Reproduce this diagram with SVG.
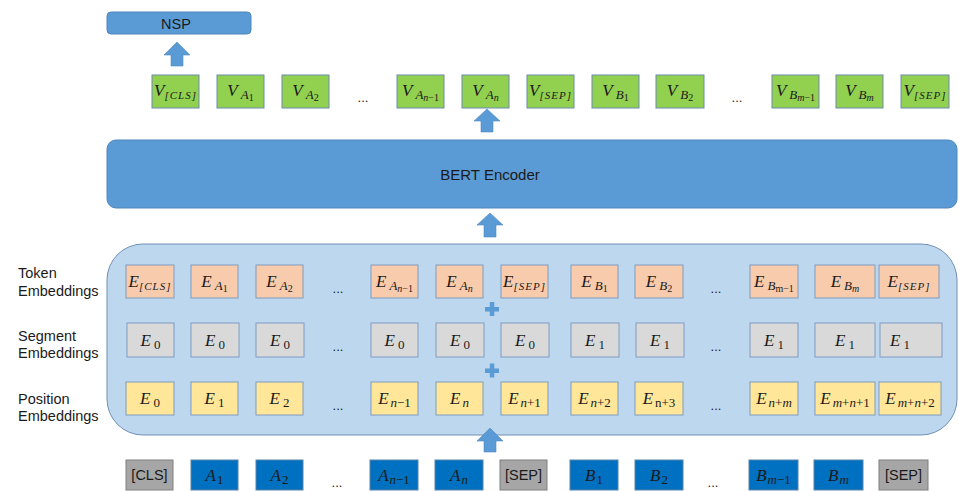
<svg xmlns="http://www.w3.org/2000/svg" width="959" height="491" viewBox="0 0 959 491">
<defs>
<style>
.lbl{font-family:"Liberation Sans",Arial,sans-serif;font-size:14.5px;fill:#1a1a1a}
.sans{font-family:"Liberation Sans",Arial,sans-serif;fill:#1a1a1a}
.m{font-family:"Liberation Serif","Times New Roman",serif;font-style:italic;font-size:17px;fill:#1a1a1a;text-anchor:middle}
.s{font-size:13px}
.ss{font-size:10px}
.u{font-style:normal}
.br{font-size:11px;letter-spacing:1px}
.dots{font-family:"Liberation Sans",Arial,sans-serif;font-size:13px;fill:#1a1a1a;text-anchor:middle}
.g{fill:#92D050;stroke:#6A8BAE;stroke-width:1}
.o{fill:#F8CBAD;stroke:#7F9CC0;stroke-width:1}
.gr{fill:#D9D9D9;stroke:#7F9CC0;stroke-width:1}
.y{fill:#FFE699;stroke:#7F9CC0;stroke-width:1}
.b{fill:#0070C0;stroke:#5A82AA;stroke-width:1}
.gi{fill:#A6A6A6;stroke:#7F7F7F;stroke-width:1}
.arr{fill:#5B9BD5;stroke:#4F8AC4;stroke-width:0.6}
.plus{fill:#5B9BD5}
</style>
</defs>
<rect width="959" height="491" fill="#ffffff"/>

<!-- NSP -->
<g id="nsp">
<rect x="107" y="12" width="144" height="22" rx="4" fill="#5B9BD5" stroke="#4F86BC" stroke-width="1"/>
<text x="176" y="28.5" class="sans" font-size="14.5" text-anchor="middle">NSP</text>
</g>

<!-- BERT -->
<g id="bert">
<rect x="107" y="140" width="850" height="68" rx="9" fill="#5B9BD5" stroke="#4F86BC" stroke-width="1"/>
<text x="490" y="180" class="sans" font-size="15" text-anchor="middle">BERT Encoder</text>
</g>

<!-- Embedding container -->
<g id="embeddings">
<rect x="107" y="244" width="850" height="191" rx="36" fill="#BDD7EE" stroke="#6F8FB5" stroke-width="1"/>
</g>

<!-- Row labels -->
<g id="labels">
<text x="18" y="278" class="lbl">Token</text>
<text x="18" y="296" class="lbl">Embeddings</text>
<text x="18" y="341" class="lbl">Segment</text>
<text x="18" y="358" class="lbl">Embeddings</text>
<text x="18" y="404" class="lbl">Position</text>
<text x="18" y="421" class="lbl">Embeddings</text>
</g>

<!-- Output V row -->
<g id="v-row">
<g id="v-cls"><rect class="g" x="152" y="75" width="47" height="33"/><text class="m" x="175.5" y="96">V<tspan class="s br" dy="3">[CLS]</tspan></text></g>
<g id="v-a1"><rect class="g" x="217" y="75" width="47" height="33"/><text class="m" x="240.5" y="96">V<tspan class="s" dx="3" dy="3">A</tspan><tspan class="ss u" dy="2">1</tspan></text></g>
<g id="v-a2"><rect class="g" x="282" y="75" width="47" height="33"/><text class="m" x="305.5" y="96">V<tspan class="s" dx="3" dy="3">A</tspan><tspan class="ss u" dy="2">2</tspan></text></g>
<text class="dots" x="363" y="102">...</text>
<g id="v-an1"><rect class="g" x="397" y="75" width="47" height="33"/><text class="m" x="420.5" y="96">V<tspan class="s" dx="3" dy="3">A</tspan><tspan class="ss" dy="2">n</tspan><tspan class="ss u">−1</tspan></text></g>
<g id="v-an"><rect class="g" x="462" y="75" width="47" height="33"/><text class="m" x="485.5" y="96">V<tspan class="s" dx="3" dy="3">A</tspan><tspan class="ss" dy="2">n</tspan></text></g>
<g id="v-sep"><rect class="g" x="527" y="75" width="47" height="33"/><text class="m" x="550.5" y="96">V<tspan class="s br" dy="3">[SEP]</tspan></text></g>
<g id="v-b1"><rect class="g" x="592" y="75" width="47" height="33"/><text class="m" x="615.5" y="96">V<tspan class="s" dx="3" dy="3">B</tspan><tspan class="ss u" dy="2">1</tspan></text></g>
<g id="v-b2"><rect class="g" x="656" y="75" width="48" height="33"/><text class="m" x="680" y="96">V<tspan class="s" dx="3" dy="3">B</tspan><tspan class="ss u" dy="2">2</tspan></text></g>
<text class="dots" x="737" y="102">...</text>
<g id="v-bm1"><rect class="g" x="772" y="75" width="47" height="33"/><text class="m" x="795.5" y="96">V<tspan class="s" dx="3" dy="3">B</tspan><tspan class="ss" dy="2">m</tspan><tspan class="ss u">−1</tspan></text></g>
<g id="v-bm"><rect class="g" x="836" y="75" width="47" height="33"/><text class="m" x="859.5" y="96">V<tspan class="s" dx="3" dy="3">B</tspan><tspan class="ss" dy="2">m</tspan></text></g>
<g id="v-sep2"><rect class="g" x="901" y="75" width="48" height="33"/><text class="m" x="925" y="96">V<tspan class="s br" dy="3">[SEP]</tspan></text></g>
</g>

<!-- Token embeddings -->
<g id="token-row">
<g id="t-cls"><rect class="o" x="126" y="265" width="48" height="33"/><text class="m" x="150" y="287">E<tspan class="s br" dy="3">[CLS]</tspan></text></g>
<g id="t-a1"><rect class="o" x="191" y="265" width="47" height="33"/><text class="m" x="214.5" y="287">E<tspan class="s" dx="3" dy="3">A</tspan><tspan class="ss u" dy="2">1</tspan></text></g>
<g id="t-a2"><rect class="o" x="256" y="265" width="47" height="33"/><text class="m" x="279.5" y="287">E<tspan class="s" dx="3" dy="3">A</tspan><tspan class="ss u" dy="2">2</tspan></text></g>
<text class="dots" x="338" y="293">...</text>
<g id="t-an1"><rect class="o" x="371" y="265" width="47" height="33"/><text class="m" x="394.5" y="287">E<tspan class="s" dx="3" dy="3">A</tspan><tspan class="ss" dy="2">n</tspan><tspan class="ss u">−1</tspan></text></g>
<g id="t-an"><rect class="o" x="436" y="265" width="47" height="33"/><text class="m" x="459.5" y="287">E<tspan class="s" dx="3" dy="3">A</tspan><tspan class="ss" dy="2">n</tspan></text></g>
<g id="t-sep"><rect class="o" x="501" y="265" width="47" height="33"/><text class="m" x="524.5" y="287">E<tspan class="s br" dy="3">[SEP]</tspan></text></g>
<g id="t-b1"><rect class="o" x="571" y="265" width="47" height="33"/><text class="m" x="594.5" y="287">E<tspan class="s" dx="3" dy="3">B</tspan><tspan class="ss u" dy="2">1</tspan></text></g>
<g id="t-b2"><rect class="o" x="635" y="265" width="48" height="33"/><text class="m" x="659" y="287">E<tspan class="s" dx="3" dy="3">B</tspan><tspan class="ss u" dy="2">2</tspan></text></g>
<text class="dots" x="716" y="293">...</text>
<g id="t-bm1"><rect class="o" x="750" y="265" width="48" height="33"/><text class="m" x="774" y="287">E<tspan class="s" dx="3" dy="3">B</tspan><tspan class="ss u" dy="2">m−1</tspan></text></g>
<g id="t-bm"><rect class="o" x="815" y="265" width="60" height="33"/><text class="m" x="845" y="287">E<tspan class="s" dx="3" dy="3">B</tspan><tspan class="ss" dy="2">m</tspan></text></g>
<g id="t-sep2"><rect class="o" x="879" y="265" width="60" height="33"/><text class="m" x="909" y="287">E<tspan class="s br" dy="3">[SEP]</tspan></text></g>
</g>

<!-- Segment embeddings -->
<g id="segment-row">
<g id="s-1"><rect class="gr" x="127" y="323" width="47" height="34"/><text class="m" x="150.5" y="346">E<tspan class="s u" dx="3" dy="3">0</tspan></text></g>
<g id="s-2"><rect class="gr" x="191" y="323" width="48" height="34"/><text class="m" x="215" y="346">E<tspan class="s u" dx="3" dy="3">0</tspan></text></g>
<g id="s-3"><rect class="gr" x="256" y="323" width="48" height="34"/><text class="m" x="280" y="346">E<tspan class="s u" dx="3" dy="3">0</tspan></text></g>
<text class="dots" x="338" y="351">...</text>
<g id="s-4"><rect class="gr" x="371" y="323" width="47" height="34"/><text class="m" x="394.5" y="346">E<tspan class="s u" dx="3" dy="3">0</tspan></text></g>
<g id="s-5"><rect class="gr" x="436" y="323" width="48" height="34"/><text class="m" x="460" y="346">E<tspan class="s u" dx="3" dy="3">0</tspan></text></g>
<g id="s-6"><rect class="gr" x="501" y="323" width="48" height="34"/><text class="m" x="525" y="346">E<tspan class="s u" dx="3" dy="3">0</tspan></text></g>
<g id="s-7"><rect class="gr" x="571" y="323" width="48" height="34"/><text class="m" x="595" y="346">E<tspan class="s u" dx="3" dy="3">1</tspan></text></g>
<g id="s-8"><rect class="gr" x="636" y="323" width="48" height="34"/><text class="m" x="660" y="346">E<tspan class="s u" dx="3" dy="3">1</tspan></text></g>
<text class="dots" x="716" y="351">...</text>
<g id="s-9"><rect class="gr" x="750" y="323" width="48" height="34"/><text class="m" x="774" y="346">E<tspan class="s u" dx="3" dy="3">1</tspan></text></g>
<g id="s-10"><rect class="gr" x="815" y="323" width="60" height="34"/><text class="m" x="845" y="346">E<tspan class="s u" dx="3" dy="3">1</tspan></text></g>
<g id="s-11"><rect class="gr" x="880" y="323" width="62" height="34"/><text class="m" x="900" y="346">E<tspan class="s u" dx="3" dy="3">1</tspan></text></g>
</g>

<!-- Position embeddings -->
<g id="position-row">
<g id="p-0"><rect class="y" x="126" y="382" width="48" height="33"/><text class="m" x="150" y="404">E<tspan class="s u" dx="3" dy="3">0</tspan></text></g>
<g id="p-1"><rect class="y" x="191" y="382" width="47" height="33"/><text class="m" x="214.5" y="404">E<tspan class="s u" dx="3" dy="3">1</tspan></text></g>
<g id="p-2"><rect class="y" x="256" y="382" width="47" height="33"/><text class="m" x="279.5" y="404">E<tspan class="s u" dx="3" dy="3">2</tspan></text></g>
<text class="dots" x="338" y="410">...</text>
<g id="p-n1"><rect class="y" x="371" y="382" width="47" height="33"/><text class="m" x="394.5" y="404">E<tspan class="s" dx="2" dy="3">n</tspan><tspan class="s u">−1</tspan></text></g>
<g id="p-n"><rect class="y" x="436" y="382" width="47" height="33"/><text class="m" x="459.5" y="404">E<tspan class="s" dx="2" dy="3">n</tspan></text></g>
<g id="p-n+1"><rect class="y" x="501" y="382" width="47" height="33"/><text class="m" x="524.5" y="404">E<tspan class="s" dx="2" dy="3">n</tspan><tspan class="s u">+1</tspan></text></g>
<g id="p-n+2"><rect class="y" x="571" y="382" width="47" height="33"/><text class="m" x="594.5" y="404">E<tspan class="s" dx="2" dy="3">n</tspan><tspan class="s u">+2</tspan></text></g>
<g id="p-n+3"><rect class="y" x="635" y="382" width="48" height="33"/><text class="m" x="659" y="404">E<tspan class="s u" dx="2" dy="3">n+3</tspan></text></g>
<text class="dots" x="716" y="410">...</text>
<g id="p-n+m"><rect class="y" x="750" y="382" width="48" height="33"/><text class="m" x="774" y="404">E<tspan class="s" dx="2" dy="3">n</tspan><tspan class="s u">+</tspan><tspan class="s">m</tspan></text></g>
<g id="p-mn1"><rect class="y" x="815" y="382" width="60" height="33"/><text class="m" x="845" y="404">E<tspan class="s" dx="2" dy="3">m</tspan><tspan class="s u">+</tspan><tspan class="s">n</tspan><tspan class="s u">+1</tspan></text></g>
<g id="p-mn2"><rect class="y" x="879" y="382" width="62" height="33"/><text class="m" x="910" y="404">E<tspan class="s" dx="2" dy="3">m</tspan><tspan class="s u">+</tspan><tspan class="s">n</tspan><tspan class="s u">+2</tspan></text></g>
</g>

<!-- Input tokens -->
<g id="input-row">
<g id="i-cls"><rect class="gi" x="126" y="460" width="47" height="30"/><text class="sans" font-size="14.5" x="149.5" y="480" text-anchor="middle">[CLS]</text></g>
<g id="i-a1"><rect class="b" x="191" y="460" width="47" height="30"/><text class="m" x="214.5" y="481" font-size="16">A<tspan class="s u" dx="1" dy="3">1</tspan></text></g>
<g id="i-a2"><rect class="b" x="256" y="460" width="47" height="30"/><text class="m" x="279.5" y="481" font-size="16">A<tspan class="s u" dx="1" dy="3">2</tspan></text></g>
<text class="dots" x="337" y="487">...</text>
<g id="i-an1"><rect class="b" x="370" y="460" width="48" height="30"/><text class="m" x="394" y="481" font-size="16">A<tspan class="s" dx="1" dy="3">n</tspan><tspan class="s u">−1</tspan></text></g>
<g id="i-an"><rect class="b" x="435" y="460" width="48" height="30"/><text class="m" x="459" y="481" font-size="16">A<tspan class="s" dx="1" dy="3">n</tspan></text></g>
<g id="i-sep"><rect class="gi" x="500" y="460" width="47" height="30"/><text class="sans" font-size="14.5" x="523.5" y="480" text-anchor="middle">[SEP]</text></g>
<g id="i-b1"><rect class="b" x="570" y="460" width="48" height="30"/><text class="m" x="594" y="481" font-size="16">B<tspan class="s u" dx="1" dy="3">1</tspan></text></g>
<g id="i-b2"><rect class="b" x="635" y="460" width="48" height="30"/><text class="m" x="659" y="481" font-size="16">B<tspan class="s u" dx="1" dy="3">2</tspan></text></g>
<text class="dots" x="713" y="487">...</text>
<g id="i-bm1"><rect class="b" x="749" y="460" width="49" height="30"/><text class="m" x="773.5" y="481" font-size="16">B<tspan class="s" dx="1" dy="3">m</tspan><tspan class="s u">−1</tspan></text></g>
<g id="i-bm"><rect class="b" x="814" y="460" width="49" height="30"/><text class="m" x="838.5" y="481" font-size="16">B<tspan class="s" dx="1" dy="3">m</tspan></text></g>
<g id="i-sep2"><rect class="gi" x="879" y="460" width="49" height="30"/><text class="sans" font-size="14.5" x="903.5" y="480" text-anchor="middle">[SEP]</text></g>
</g>

<!-- Plus signs -->
<g id="plus-signs" class="plus">
<rect x="485" y="307" width="14" height="4.5"/><rect x="489.8" y="302" width="4.5" height="14"/>
<rect x="485" y="368.5" width="14" height="4.5"/><rect x="489.8" y="363.5" width="4.5" height="14"/>
</g>

<!-- Connectors (block arrows) -->
<g id="connectors">
<polygon class="arr" points="177,42 190,55 183,55 183,66 171,66 171,55 164,55"/>
<polygon class="arr" points="487,109 500,121 493,121 493,132 481,132 481,121 474,121"/>
<polygon class="arr" points="490,213 503,225 496,225 496,237 484,237 484,225 477,225"/>
<polygon class="arr" points="490,428 503,441 496,441 496,452 484,452 484,441 477,441"/>
</g>
</svg>
